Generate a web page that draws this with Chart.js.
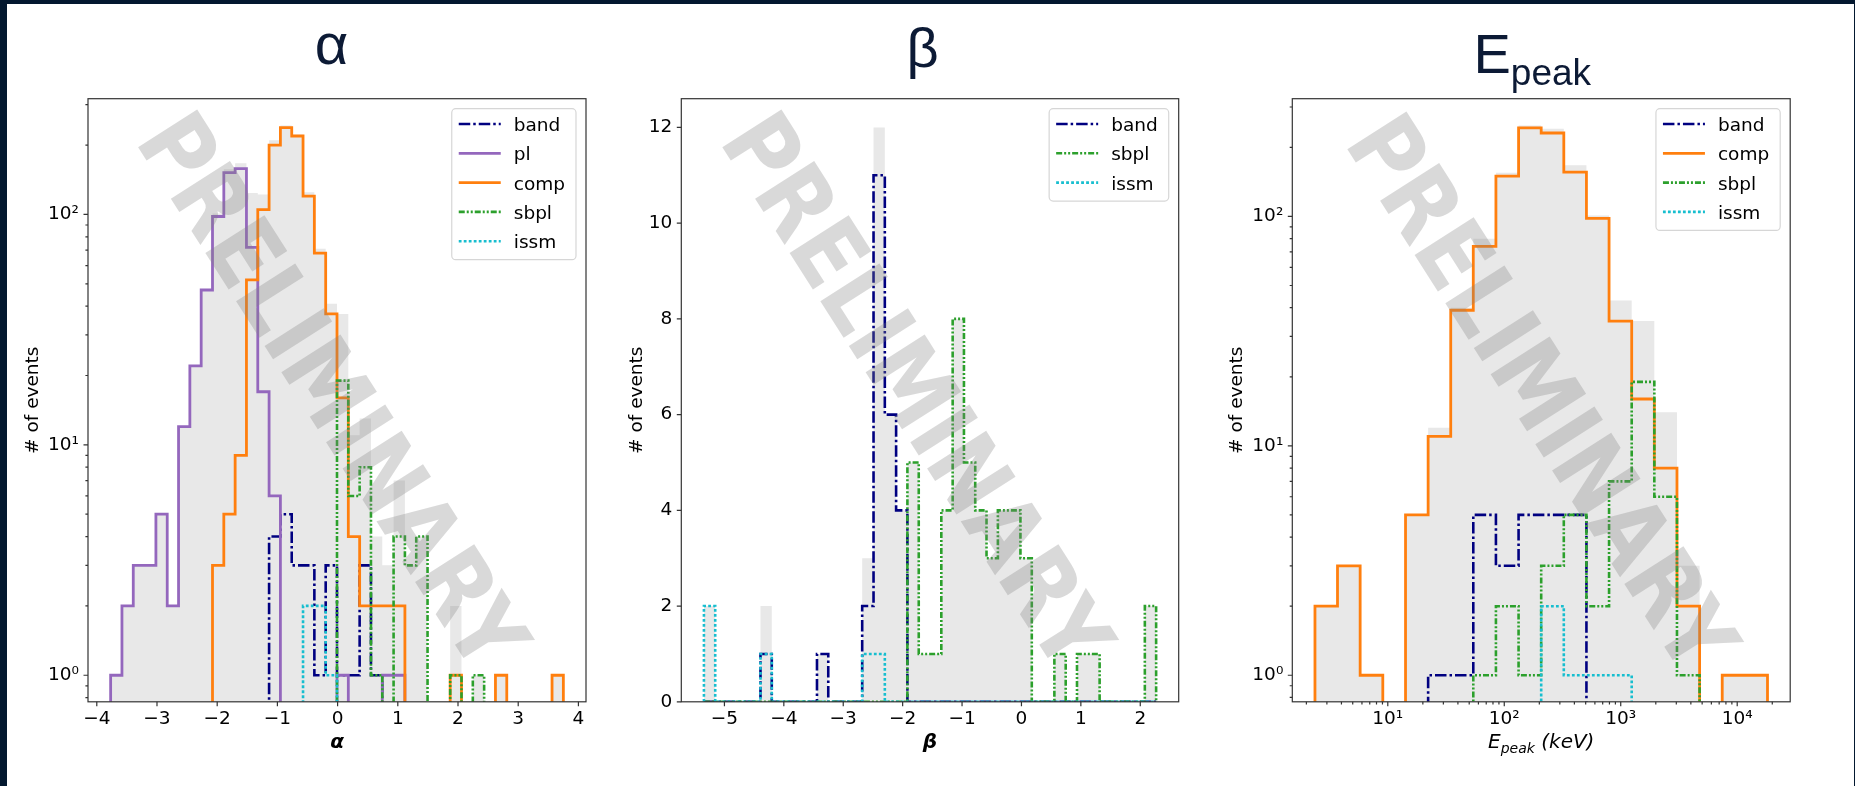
<!DOCTYPE html>
<html><head><meta charset="utf-8">
<script src="https://cdn.jsdelivr.net/npm/chart.js@4.4.1/dist/chart.umd.min.js"></script>
<style>
html,body{margin:0;padding:0;width:1855px;height:786px;overflow:hidden;background:#fff;}
#frame{position:absolute;left:0;top:0;width:1855px;height:786px;box-sizing:border-box;border-left:7px solid #03182f;border-top:4px solid #03182f;border-right:1px solid #03182f;}
canvas{position:absolute;top:0;}
</style></head><body>
<div id="frame"></div>
<canvas id="c1" width="612" height="786" style="left:8px;width:612px;height:786px"></canvas>
<canvas id="c2" width="595" height="786" style="left:620px;width:595px;height:786px"></canvas>
<canvas id="c3" width="639" height="786" style="left:1215px;width:639px;height:786px"></canvas>
<script>
// ---------------- DATA ----------------
// alpha panel: 40 bins
const alphaEdges = [-3.77,-3.582,-3.394,-3.206,-3.018,-2.83,-2.642,-2.454,-2.266,-2.078,-1.89,-1.702,-1.514,-1.326,-1.138,-0.95,-0.762,-0.574,-0.386,-0.198,-0.01,0.178,0.366,0.554,0.742,0.93,1.118,1.306,1.494,1.682,1.87,2.058,2.246,2.434,2.622,2.81,2.998,3.186,3.374,3.562,3.75];
const alphaBand = [0,0,0,0,0,0,0,0,0,0, 0,0,0,0,4,5,3,3,1,3, 1,1,3,1,0,0,0,0,0,0, 0,0,0,0,0,0,0,0,0,0];
const alphaPl   = [1,2,3,3,5,2,12,22,47,98, 152,158,72,17,6,0,0,0,0,0, 1,0,0,0,1,1,0,0,0,0, 0,0,0,0,0,0,0,0,0,0];
const alphaComp = [0,0,0,0,0,0,0,0,0,3, 5,9,52,105,200,238,219,120,68,37, 16,4,2,2,2,2,0,0,0,0, 1,0,0,0,1,0,0,0,0,1];
const alphaSbpl = [0,0,0,0,0,0,0,0,0,0, 0,0,0,0,0,0,0,0,0,0, 19,6,8,1,0,4,3,4,0,0, 1,0,1,0,0,0,0,0,0,0];
const alphaIssm = [0,0,0,0,0,0,0,0,0,0, 0,0,0,0,0,0,0,2,2,1, 0,0,0,0,0,0,0,0,0,0, 0,0,0,0,0,0,0,0,0,0];
const alphaAll  = [1,2,3,3,5,2,12,22,47,101, 157,167,124,122,210,243,222,125,71,41, 37,11,13,4,3,7,3,4,0,0, 2,0,1,0,1,0,0,0,0,1];

// beta panel: 40 bins
const betaEdges = [-5.345,-5.155,-4.964,-4.774,-4.584,-4.393,-4.203,-4.013,-3.823,-3.632,-3.442,-3.252,-3.061,-2.871,-2.681,-2.49,-2.3,-2.11,-1.92,-1.729,-1.539,-1.349,-1.158,-0.968,-0.778,-0.588,-0.397,-0.207,-0.017,0.174,0.364,0.554,0.745,0.935,1.125,1.316,1.506,1.696,1.886,2.077,2.267];
const betaBand = [0,0,0,0,0,1,0,0,0,0, 1,0,0,0,2,11,6,4,0,0, 0,0,0,0,0,0,0,0,0,0, 0,0,0,0,0,0,0,0,0,0];
const betaSbpl = [0,0,0,0,0,0,0,0,0,0, 0,0,0,0,0,0,0,0,5,1, 1,4,8,5,4,3,4,4,3,0, 0,1,0,1,1,0,0,0,0,2];
const betaIssm = [2,0,0,0,0,1,0,0,0,0, 0,0,0,0,1,1,0,0,0,0, 0,0,0,0,0,0,0,0,0,0, 0,0,0,0,0,0,0,0,0,0];
const betaAll  = [2,0,0,0,0,2,0,0,0,0, 1,0,0,0,3,12,6,4,5,1, 1,4,8,5,4,3,4,4,3,0, 0,1,0,1,1,0,0,0,0,2];

// Epeak panel: 20 log bins (keV)
const epEdges = [2.37,3.70,5.79,9.06,14.2,22.2,34.7,54.2,84.8,132.7,207.5,324.5,507.6,794,1242,1943,3040,4755,7437,11630,18200];
const epBand = [0,0,0,0,0,1,1,5,3,5,5,5,0,0,0,0,0,0,0,0];
const epComp = [2,3,1,0,5,11,39,74,150,243,231,156,98,35,16,8,2,0,1,1];
const epSbpl = [0,0,0,0,0,0,0,1,2,1,3,5,2,7,19,6,1,0,0,0];
const epIssm = [0,0,0,0,0,0,0,0,0,0,2,1,1,1,0,0,0,0,0,0];
const epAll  = [2,3,1,0,5,12,40,80,155,249,241,167,101,43,35,14,3,0,1,1];

// tick labels
const alphaXTicks = [-4,-3,-2,-1,0,1,2,3,4];
const betaXTicks = [-5,-4,-3,-2,-1,0,1,2];
const betaYTicks = [0,2,4,6,8,10,12];
const logYTicks = [1,10,100];
const epXTicks = [10,100,1000,10000];

// ---------------- HELPERS ----------------
const SUP = {'0':'\u2070','1':'\u00b9','2':'\u00b2','3':'\u00b3','4':'\u2074'};
const powLabel = v => '10' + SUP[String(Math.round(Math.log10(v)))];
const numLabel = v => (v < 0 ? '\u2212' + Math.abs(v) : String(v));

function steps(edges, counts, floor) {
  const pts = [{x: edges[0], y: floor}];
  for (let i = 0; i < counts.length; i++) {
    const v = counts[i] > 0 ? counts[i] : floor;
    pts.push({x: edges[i], y: v}, {x: edges[i + 1], y: v});
  }
  pts.push({x: edges[edges.length - 1], y: floor});
  return pts;
}
function minorLog(min, max) {
  const out = [];
  for (let e = Math.floor(Math.log10(min)); e <= Math.ceil(Math.log10(max)); e++)
    for (let m = 2; m <= 9; m++) { const v = m * Math.pow(10, e); if (v >= min && v <= max) out.push(v); }
  return out;
}

const COL = {band:'#000080', pl:'#9467bd', comp:'#ff7f0e', sbpl:'#2ca02c', issm:'#17becf'};
const DASH = {band:[11.5,3,2.5,3], pl:[], comp:[], sbpl:[6,2,2,2,2,2], issm:[2.8,2.2]};
const LW = {band:2.6, pl:2.8, comp:2.8, sbpl:2.6, issm:2.6};
const ORDER = {band:5, pl:4, comp:3, sbpl:2, issm:1};

function lineDs(name, edges, counts, floor) {
  return {label: name, data: steps(edges, counts, floor), borderColor: COL[name], borderWidth: LW[name],
    borderDash: DASH[name], fill: false, pointRadius: 0, order: ORDER[name], inLegend: true,
    borderJoinStyle: 'miter', borderCapStyle: 'butt'};
}
function grayDs(edges, counts, floor) {
  return {label: 'all', data: steps(edges, counts, floor), borderWidth: 0, borderColor: 'rgba(0,0,0,0)',
    backgroundColor: '#e8e8e8', fill: 'start', pointRadius: 0, order: 10, inLegend: false};
}

const FONT = '"DejaVu Sans"';
const TITLE_COL = '#0c1a35';
const WM_SIZE = 96;
const WM_FONT = 'bold ' + WM_SIZE + 'px "DejaVu Sans"';
const WM_SX = 0.87;
const WM_ANGLE = 57.5;

const PANELS = {
  c1: {wm: [326.2, 390], yTitleX: 29.6, xMajor: alphaXTicks, xMinor: [], yMajor: logYTicks, yMinor: minorLog(0.767, 318),
    drawTitles(ctx, a) {
      ctx.fillStyle = TITLE_COL; ctx.font = '58px "Liberation Sans"'; ctx.textAlign = 'center'; ctx.textBaseline = 'alphabetic';
      ctx.fillText('\u03b1', 323.5, 64);
      ctx.fillStyle = '#000'; ctx.font = 'italic bold 20px ' + FONT;
      ctx.fillText('\u03b1', (a.left + a.right) / 2, 748);
    }},
  c2: {wm: [298.5, 390], yTitleX: 21.7, xMajor: betaXTicks, xMinor: [], yMajor: betaYTicks, yMinor: [],
    drawTitles(ctx, a) {
      ctx.fillStyle = TITLE_COL; ctx.font = '56px "Liberation Sans"'; ctx.textAlign = 'center'; ctx.textBaseline = 'alphabetic';
      ctx.fillText('\u03b2', 302.5, 67);
      ctx.fillStyle = '#000'; ctx.font = 'italic bold 20px ' + FONT;
      ctx.fillText('\u03b2', (a.left + a.right) / 2, 748);
    }},
  c3: {wm: [328.5, 392], yTitleX: 27, xMajor: epXTicks, xMinor: minorLog(1.514, 28510), yMajor: logYTicks, yMinor: minorLog(0.766, 326),
    drawTitles(ctx, a) {
      ctx.fillStyle = TITLE_COL; ctx.textAlign = 'left'; ctx.textBaseline = 'alphabetic';
      ctx.font = '56px "Liberation Sans"';
      ctx.fillText('E', 258.5, 72.7);
      const wE = ctx.measureText('E').width;
      ctx.font = '37px "Liberation Sans"';
      ctx.fillText('peak', 258.5 + wE, 85);
      // x label: E_peak (keV)
      ctx.fillStyle = '#000';
      const f1 = 'italic 20px ' + FONT, f2 = 'italic 14px ' + FONT;
      ctx.font = f1; const w1 = ctx.measureText('E').width, w3 = ctx.measureText(' (keV)').width;
      ctx.font = f2; const w2 = ctx.measureText('peak').width;
      let x = (a.left + a.right) / 2 - (w1 + w2 + w3) / 2;
      ctx.font = f1; ctx.fillText('E', x, 748); x += w1;
      ctx.font = f2; ctx.fillText('peak', x, 752.5); x += w2;
      ctx.font = f1; ctx.fillText(' (keV)', x, 748);
    }}
};

const deco = {
  id: 'deco',
  afterDatasetsDraw(chart) {
    const P = PANELS[chart.canvas.id], ctx = chart.ctx;
    ctx.save();
    ctx.translate(P.wm[0], P.wm[1]);
    ctx.rotate(WM_ANGLE * Math.PI / 180);
    ctx.scale(WM_SX, 1);
    ctx.font = WM_FONT;
    ctx.fillStyle = 'rgba(128,128,128,0.3)';
    ctx.textAlign = 'center'; ctx.textBaseline = 'alphabetic';
    ctx.fillText('PRELIMINARY', 0, 0.729 * WM_SIZE / 2);
    ctx.restore();
  },
  afterDraw(chart) {
    const P = PANELS[chart.canvas.id], ctx = chart.ctx, a = chart.chartArea;
    const xs = chart.scales.x, ys = chart.scales.y;
    ctx.save();
    // legend
    const items = chart.data.datasets.filter(d => d.inLegend);
    ctx.font = '18.5px ' + FONT;
    const tw = Math.max(...items.map(d => ctx.measureText(d.label).width));
    const rowH = 29.3, w = 62 + tw + 11, h = items.length * rowH + 4.5;
    const lx = a.right - 10 - w, ly = a.top + 10;
    ctx.beginPath(); ctx.roundRect(lx, ly, w, h, 4);
    ctx.fillStyle = 'rgba(255,255,255,0.8)'; ctx.fill();
    ctx.strokeStyle = 'rgba(204,204,204,0.8)'; ctx.lineWidth = 1.2; ctx.stroke();
    items.forEach((d, i) => {
      const cy = ly + 15.3 + i * rowH;
      ctx.beginPath(); ctx.setLineDash(d.borderDash); ctx.strokeStyle = d.borderColor; ctx.lineWidth = d.borderWidth;
      ctx.moveTo(lx + 7, cy); ctx.lineTo(lx + 49, cy); ctx.stroke();
      ctx.setLineDash([]);
      ctx.fillStyle = '#000'; ctx.textAlign = 'left'; ctx.textBaseline = 'alphabetic';
      ctx.fillText(d.label, lx + 62, cy + 7);
    });
    // spines
    ctx.strokeStyle = '#333'; ctx.lineWidth = 1.2;
    ctx.strokeRect(a.left, a.top, a.right - a.left, a.bottom - a.top);
    // tick marks
    const tick = (scale, vals, len, horiz) => {
      ctx.beginPath();
      vals.forEach(v => {
        const p = scale.getPixelForValue(v);
        if (horiz) { ctx.moveTo(p, a.bottom); ctx.lineTo(p, a.bottom + len); }
        else { ctx.moveTo(a.left, p); ctx.lineTo(a.left - len, p); }
      });
      ctx.stroke();
    };
    tick(xs, P.xMajor, 4.5, true); tick(xs, P.xMinor, 2.6, true);
    tick(ys, P.yMajor, 4.5, false); tick(ys, P.yMinor, 2.6, false);
    // y title
    ctx.save();
    ctx.translate(P.yTitleX, (a.top + a.bottom) / 2);
    ctx.rotate(-Math.PI / 2);
    ctx.fillStyle = '#000'; ctx.font = '18.5px ' + FONT; ctx.textAlign = 'center'; ctx.textBaseline = 'alphabetic';
    ctx.fillText('# of events', 0, 0);
    ctx.restore();
    P.drawTitles(ctx, a);
    ctx.restore();
  }
};

function makeChart(id, datasets, xOpt, yOpt, yW, padRight) {
  const common = {grid: {display: false, drawTicks: false}, border: {display: false}};
  return new Chart(document.getElementById(id), {
    type: 'line',
    data: {datasets},
    options: {
      responsive: false, animation: false, events: [],
      layout: {padding: {left: 0, top: 98.7, right: padRight, bottom: 0}},
      plugins: {legend: {display: false}, tooltip: {enabled: false}},
      scales: {
        x: Object.assign({}, common, xOpt, {
          afterFit: s => { s.height = 84.2; },
          ticks: Object.assign({autoSkip: false, maxRotation: 0, minRotation: 0, padding: 6, color: '#000', font: {size: 18.5, family: FONT}}, xOpt.ticks)
        }),
        y: Object.assign({}, common, yOpt, {
          afterFit: s => { s.width = yW; },
          ticks: Object.assign({autoSkip: false, padding: 9, color: '#000', font: {size: 18.5, family: FONT}}, yOpt.ticks)
        })
      }
    },
    plugins: [deco]
  });
}

const FL = 0.3; // value used for empty bins on log axes (below the axis floor)
makeChart('c1', [
  lineDs('band', alphaEdges, alphaBand, FL),
  lineDs('pl', alphaEdges, alphaPl, FL),
  lineDs('comp', alphaEdges, alphaComp, FL),
  lineDs('sbpl', alphaEdges, alphaSbpl, FL),
  lineDs('issm', alphaEdges, alphaIssm, FL),
  grayDs(alphaEdges, alphaAll, 0.767)
], {type: 'linear', min: -4.146, max: 4.126, afterBuildTicks: s => { s.ticks = alphaXTicks.map(v => ({value: v})); }, ticks: {callback: v => numLabel(v)}},
   {type: 'logarithmic', min: 0.767, max: 318, afterBuildTicks: s => { s.ticks = logYTicks.map(v => ({value: v, major: true})); }, ticks: {callback: v => powLabel(v)}},
   80, 34);

makeChart('c2', [
  lineDs('band', betaEdges, betaBand, 0),
  lineDs('sbpl', betaEdges, betaSbpl, 0),
  lineDs('issm', betaEdges, betaIssm, 0),
  grayDs(betaEdges, betaAll, 0)
], {type: 'linear', min: -5.726, max: 2.647, afterBuildTicks: s => { s.ticks = betaXTicks.map(v => ({value: v})); }, ticks: {callback: v => numLabel(v)}},
   {type: 'linear', min: 0, max: 12.6, afterBuildTicks: s => { s.ticks = betaYTicks.map(v => ({value: v})); }, ticks: {callback: v => String(v)}},
   61.3, 36.3);

makeChart('c3', [
  lineDs('band', epEdges, epBand, FL),
  lineDs('comp', epEdges, epComp, FL),
  lineDs('sbpl', epEdges, epSbpl, FL),
  lineDs('issm', epEdges, epIssm, FL),
  grayDs(epEdges, epAll, 0.766)
], {type: 'logarithmic', min: 1.514, max: 28510, afterBuildTicks: s => { s.ticks = epXTicks.map(v => ({value: v, major: true})); }, ticks: {callback: v => powLabel(v)}},
   {type: 'logarithmic', min: 0.766, max: 326, afterBuildTicks: s => { s.ticks = logYTicks.map(v => ({value: v, major: true})); }, ticks: {callback: v => powLabel(v)}},
   77.3, 63.8);
</script>
</body></html>
